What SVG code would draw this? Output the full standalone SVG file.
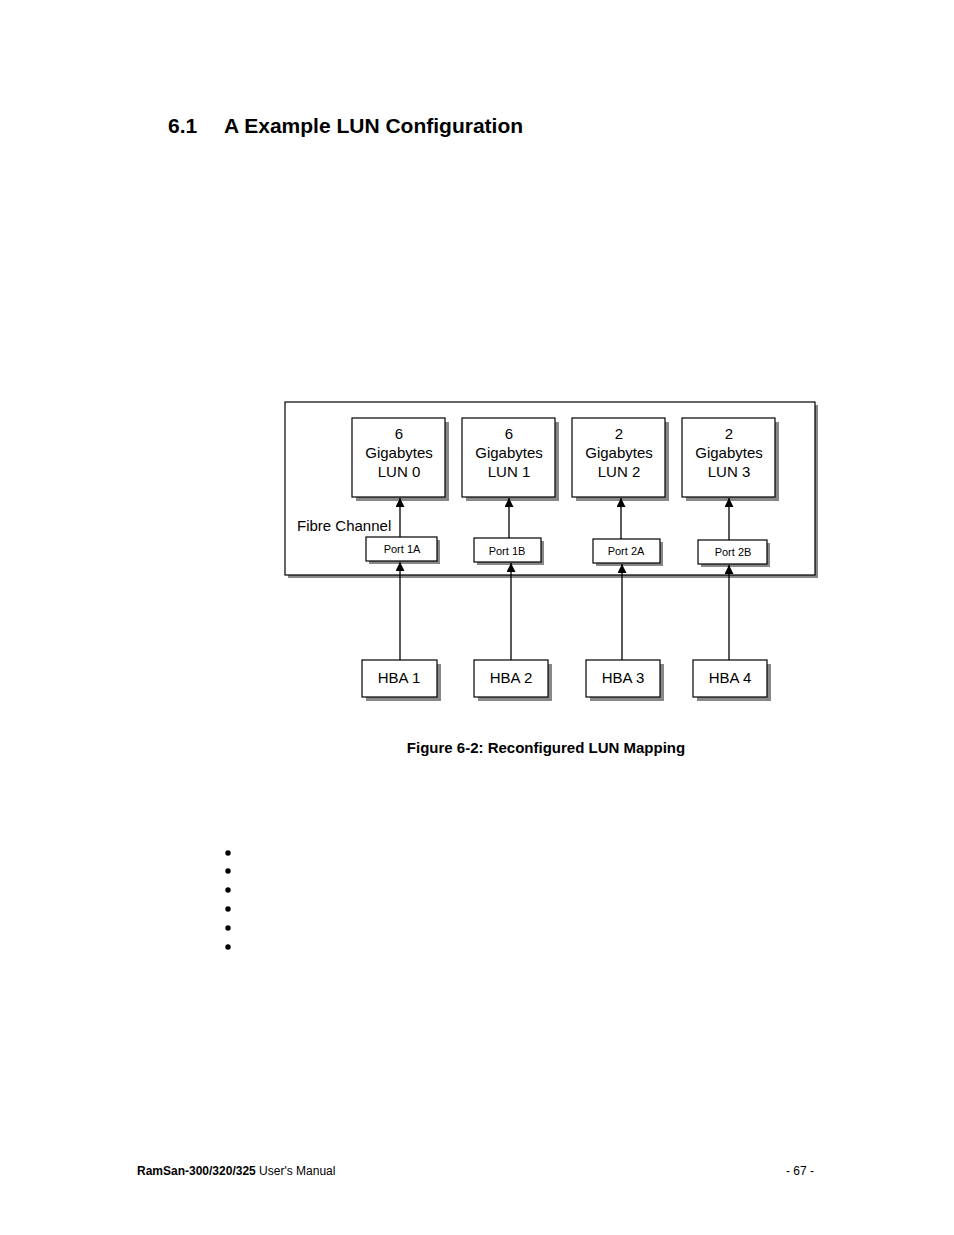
<svg xmlns="http://www.w3.org/2000/svg" width="954" height="1235" viewBox="0 0 954 1235">
<style>
.b{fill:#fff;stroke:#000;stroke-width:1.2}
.s{fill:#888}
text{font-family:"Liberation Sans",Arial,sans-serif;fill:#000}
.t{font-size:15px;text-anchor:middle}
.p{font-size:11px;text-anchor:middle}
.c line{stroke:#000;stroke-width:1.3}
</style>
<defs><marker id="a" viewBox="0 0 10 10" refX="10" refY="5" markerWidth="11" markerHeight="9" markerUnits="userSpaceOnUse" orient="auto"><path d="M0,0L10,5L0,10z" fill="#000"/></marker></defs>
<rect width="954" height="1235" fill="#fff"/>
<text x="168" y="133" font-size="21" font-weight="bold">6.1<tspan x="224">A Example LUN Configuration</tspan></text>
<g id="fc"><rect class="s" x="288" y="405" width="530" height="173"/><rect class="b" x="285" y="402" width="530" height="173"/><text x="297" y="531" font-size="15">Fibre Channel</text></g>
<g id="lun0"><rect class="s" x="356" y="422" width="93" height="79"/><rect class="b" x="352" y="418" width="93" height="79"/><text class="t" x="399" y="439">6</text><text class="t" x="399" y="458">Gigabytes</text><text class="t" x="399" y="477">LUN 0</text></g>
<g id="lun1"><rect class="s" x="466" y="422" width="93" height="79"/><rect class="b" x="462" y="418" width="93" height="79"/><text class="t" x="509" y="439">6</text><text class="t" x="509" y="458">Gigabytes</text><text class="t" x="509" y="477">LUN 1</text></g>
<g id="lun2"><rect class="s" x="576" y="422" width="93" height="79"/><rect class="b" x="572" y="418" width="93" height="79"/><text class="t" x="619" y="439">2</text><text class="t" x="619" y="458">Gigabytes</text><text class="t" x="619" y="477">LUN 2</text></g>
<g id="lun3"><rect class="s" x="686" y="422" width="93" height="79"/><rect class="b" x="682" y="418" width="93" height="79"/><text class="t" x="729" y="439">2</text><text class="t" x="729" y="458">Gigabytes</text><text class="t" x="729" y="477">LUN 3</text></g>
<g id="p1a"><rect class="s" x="369" y="540" width="71" height="24"/><rect class="b" x="366" y="537" width="71" height="24"/><text class="p" x="402" y="553">Port 1A</text></g>
<g id="p1b"><rect class="s" x="477" y="541" width="67" height="24"/><rect class="b" x="474" y="538" width="67" height="24"/><text class="p" x="507" y="555">Port 1B</text></g>
<g id="p2a"><rect class="s" x="596" y="542" width="67" height="24"/><rect class="b" x="593" y="539" width="67" height="24"/><text class="p" x="626" y="555">Port 2A</text></g>
<g id="p2b"><rect class="s" x="701" y="543" width="69" height="24"/><rect class="b" x="698" y="540" width="69" height="24"/><text class="p" x="733" y="556">Port 2B</text></g>
<g id="h1"><rect class="s" x="366" y="664" width="75" height="37"/><rect class="b" x="362" y="660" width="75" height="37"/><text class="t" x="399" y="683">HBA 1</text></g>
<g id="h2"><rect class="s" x="478" y="664" width="74" height="37"/><rect class="b" x="474" y="660" width="74" height="37"/><text class="t" x="511" y="683">HBA 2</text></g>
<g id="h3"><rect class="s" x="590" y="664" width="74" height="37"/><rect class="b" x="586" y="660" width="74" height="37"/><text class="t" x="623" y="683">HBA 3</text></g>
<g id="h4"><rect class="s" x="697" y="664" width="74" height="37"/><rect class="b" x="693" y="660" width="74" height="37"/><text class="t" x="730" y="683">HBA 4</text></g>
<g class="c">
<line x1="400" y1="537" x2="400" y2="498" marker-end="url(#a)"/>
<line x1="509" y1="538" x2="509" y2="498" marker-end="url(#a)"/>
<line x1="621" y1="539" x2="621" y2="498" marker-end="url(#a)"/>
<line x1="729" y1="540" x2="729" y2="498" marker-end="url(#a)"/>
<line x1="400" y1="660" x2="400" y2="562" marker-end="url(#a)"/>
<line x1="511" y1="660" x2="511" y2="563" marker-end="url(#a)"/>
<line x1="622" y1="660" x2="622" y2="564" marker-end="url(#a)"/>
<line x1="729" y1="660" x2="729" y2="565" marker-end="url(#a)"/>
</g>
<text x="546" y="753" font-size="15" font-weight="bold" text-anchor="middle">Figure 6-2: Reconfigured LUN Mapping</text>
<g fill="#000"><circle cx="228" cy="853" r="2.7"/><circle cx="228" cy="871" r="2.7"/><circle cx="228" cy="890" r="2.7"/><circle cx="228" cy="909" r="2.7"/><circle cx="228" cy="928" r="2.7"/><circle cx="228" cy="947" r="2.7"/></g>
<text x="137" y="1175" font-size="12"><tspan font-weight="bold">RamSan-300/320/325</tspan> User's Manual</text>
<text x="814" y="1175" font-size="12" text-anchor="end">- 67 -</text>
</svg>
